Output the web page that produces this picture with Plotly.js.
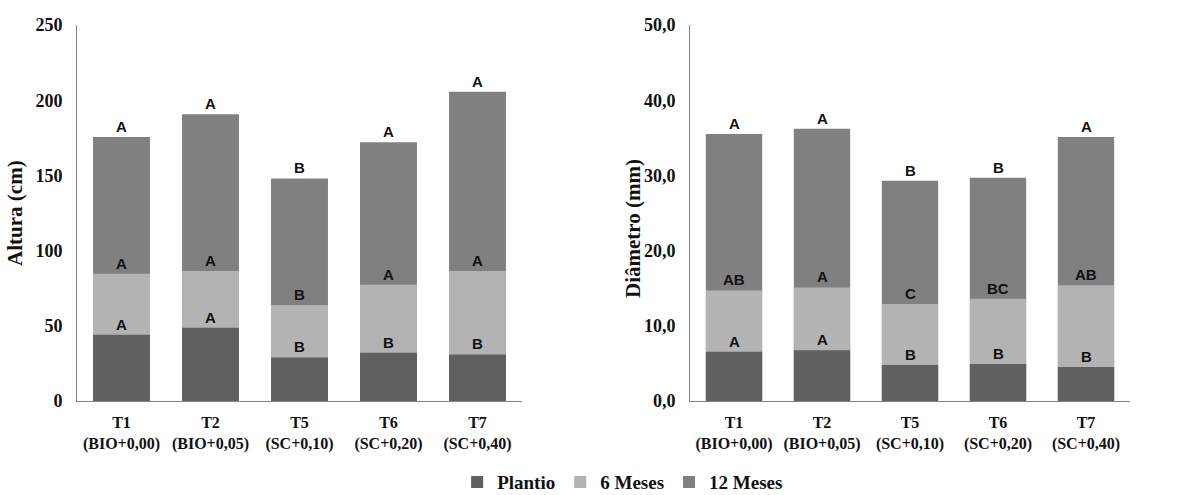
<!DOCTYPE html>
<html>
<head>
<meta charset="utf-8">
<script src="https://cdn.plot.ly/plotly-3.0.1.min.js"></script>
<style>html,body{margin:0;padding:0;background:#fff;}#chart{width:1202px;height:495px;}</style>
</head>
<body>
<div id="chart"></div>
<script>
// ---- data ----
var treatments = ["T1", "T2", "T5", "T6", "T7"];
var doses = ["(BIO+0,00)", "(BIO+0,05)", "(SC+0,10)", "(SC+0,20)", "(SC+0,40)"];
var seriesNames = ["Plantio", "6 Meses", "12 Meses"];

var alturaPlantio = [44.1, 48.7, 29.0, 32.1, 31.0];
var altura6Meses  = [84.6, 86.4, 63.8, 77.3, 86.4];
var altura12Meses = [175.5, 190.6, 148.0, 172.0, 205.7];

var diamPlantio = [6.56, 6.74, 4.79, 4.92, 4.52];
var diam6Meses  = [14.7, 15.1, 12.9, 13.6, 15.4];
var diam12Meses = [35.5, 36.2, 29.3, 29.7, 35.1];

var alturaLetrasPlantio = ["A", "A", "B", "B", "B"];
var alturaLetras6Meses  = ["A", "A", "B", "A", "A"];
var alturaLetras12Meses = ["A", "A", "B", "A", "A"];

var diamLetrasPlantio = ["A", "A", "B", "B", "B"];
var diamLetras6Meses  = ["AB", "A", "C", "BC", "AB"];
var diamLetras12Meses = ["A", "A", "B", "B", "A"];

// ---- styling ----
var colors = ["#606060", "#b3b3b3", "#808080"];
var categories = treatments.map(function (t, i) { return "<b>" + t + "</b><br><b>" + doses[i] + "</b>"; });
var serif = "'Liberation Serif', 'Times New Roman', serif";
var sans = "'Liberation Sans', Arial, sans-serif";

var traces = [];
function addSeries(values, idx, xa, ya) {
  traces.push({
    type: "bar", x: categories, y: values, name: seriesNames[idx],
    xaxis: xa, yaxis: ya, showlegend: false,
    marker: { color: colors[idx], line: { width: 0 } },
    hoverinfo: "y"
  });
}
// tallest first so the smaller bars overlay on top
addSeries(altura12Meses, 2, "x", "y");
addSeries(altura6Meses, 1, "x", "y");
addSeries(alturaPlantio, 0, "x", "y");
addSeries(diam12Meses, 2, "x2", "y2");
addSeries(diam6Meses, 1, "x2", "y2");
addSeries(diamPlantio, 0, "x2", "y2");
// legend entries in original order
[0, 1, 2].forEach(function (i) {
  traces.push({
    type: "bar", x: [null], y: [null], name: "<b>" + seriesNames[i] + "</b>",
    marker: { color: colors[i] }, showlegend: true, xaxis: "x", yaxis: "y", hoverinfo: "skip"
  });
});

var annotations = [];
function addLetters(values, letters, xr, yr) {
  values.forEach(function (v, i) {
    annotations.push({
      x: categories[i], y: v, xref: xr, yref: yr, text: "<b>" + letters[i] + "</b>",
      showarrow: false, yanchor: "bottom", xanchor: "center", yshift: 0,
      font: { family: sans, size: 15, color: "#111" }
    });
  });
}
addLetters(alturaPlantio, alturaLetrasPlantio, "x", "y");
addLetters(altura6Meses, alturaLetras6Meses, "x", "y");
addLetters(altura12Meses, alturaLetras12Meses, "x", "y");
addLetters(diamPlantio, diamLetrasPlantio, "x2", "y2");
addLetters(diam6Meses, diamLetras6Meses, "x2", "y2");
addLetters(diam12Meses, diamLetras12Meses, "x2", "y2");

annotations.push({
  xref: "paper", yref: "paper", x: 0.0125, y: 0.570, xanchor: "center", yanchor: "middle",
  text: "<b>Altura (cm)</b>",
  textangle: -90, showarrow: false, font: { family: serif, size: 21, color: "#111" }
});
annotations.push({
  xref: "paper", yref: "paper", x: 0.526, y: 0.538, xanchor: "center", yanchor: "middle",
  text: "<b>Diâmetro (mm)</b>",
  textangle: -90, showarrow: false, font: { family: serif, size: 21, color: "#111" }
});

var xaxisBase = {
  type: "category", showgrid: false, zeroline: false, showline: true,
  linecolor: "#868686", linewidth: 1,
  ticks: "outside", ticklen: 7, tickcolor: "rgba(0,0,0,0)",
  tickfont: { family: serif, size: 16, color: "#111" },
  fixedrange: true
};
var yaxisBase = {
  showgrid: false, zeroline: false, showline: true, linecolor: "#868686", linewidth: 1,
  ticks: "", ticklabelstandoff: 10,
  tickfont: { family: serif, size: 18, color: "#111", weight: "bold" },
  domain: [1 - 401 / 495, 1 - 25 / 495], fixedrange: true
};

var layout = {
  width: 1202, height: 495,
  margin: { l: 0, r: 0, t: 0, b: 0, autoexpand: false },
  paper_bgcolor: "#fff", plot_bgcolor: "#fff",
  barmode: "overlay", bargap: 0.36,
  separators: ",.",
  xaxis: Object.assign({}, xaxisBase, { domain: [77 / 1202, 522 / 1202], anchor: "y" }),
  yaxis: Object.assign({}, yaxisBase, { range: [0, 250], dtick: 50, tickformat: "d", anchor: "x" }),
  xaxis2: Object.assign({}, xaxisBase, { domain: [690 / 1202, 1130 / 1202], anchor: "y2" }),
  yaxis2: Object.assign({}, yaxisBase, { range: [0, 50], dtick: 10, tickformat: ".1f", anchor: "x2" }),
  showlegend: true,
  legend: {
    orientation: "h", x: 0.518, xanchor: "center", y: 0.026, yanchor: "middle",
    font: { family: serif, size: 19, color: "#111" },
    traceorder: "normal", itemclick: false, itemdoubleclick: false
  },
  annotations: annotations
};

Plotly.newPlot("chart", traces, layout, { displayModeBar: false, staticPlot: true });
</script>
</body>
</html>
